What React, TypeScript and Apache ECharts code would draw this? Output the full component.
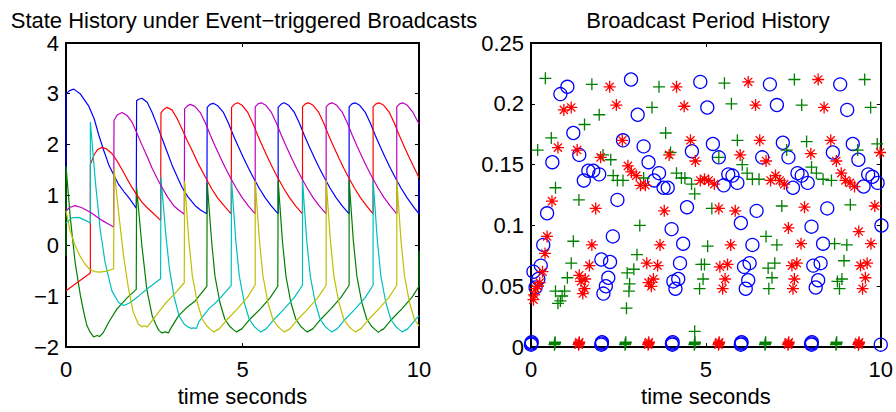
import React, { useEffect, useRef } from "react";
import * as echarts from "echarts";

const TITLE_LEFT = "State History under Event\u2212triggered Broadcasts";
const TITLE_RIGHT = "Broadcast Period History";
const X_NAME = "time seconds";
const Y2_LABELS = ["0", "0.05", "0.1", "0.15", "0.2", "0.25"];

const blueLine = [[0,1.5],[0,2.99],[0.1,3.06],[0.22,3.09],[0.4,3.0],[0.64,2.76],[0.8,2.5],[0.93,2.18],[1.07,1.88],[1.21,1.6],[1.35,1.4],[1.49,1.21],[1.65,1.06],[1.78,0.95],[1.99,0.74],
[2.0,0.74],[2.0,2.86],[2.06,2.89],[2.15,2.91],[2.3,2.83],[2.44,2.63],[2.58,2.38],[2.72,2.12],[2.86,1.86],[3.0,1.6],[3.15,1.36],[3.29,1.15],[3.45,0.97],[3.66,0.79],[3.82,0.7],[3.99,0.63],
[4.0,0.63],[4.0,2.73],[4.08,2.79],[4.17,2.81],[4.3,2.76],[4.46,2.63],[4.6,2.42],[4.74,2.18],[4.88,1.96],[5.03,1.73],[5.17,1.53],[5.31,1.34],[5.47,1.14],[5.64,0.95],[5.82,0.78],[6.01,0.63],
[6.01,2.73],[6.09,2.79],[6.18,2.82],[6.31,2.77],[6.47,2.63],[6.61,2.42],[6.75,2.18],[6.89,1.96],[7.04,1.73],[7.18,1.53],[7.32,1.34],[7.48,1.14],[7.65,0.95],[7.83,0.78],[8.02,0.63],
[8.02,2.74],[8.1,2.8],[8.19,2.82],[8.32,2.77],[8.48,2.63],[8.62,2.42],[8.76,2.18],[8.9,1.96],[9.05,1.73],[9.19,1.53],[9.33,1.34],[9.49,1.14],[9.66,0.95],[9.83,0.78],[10.0,0.63],[10.0,1.3]];

const greenLine = [[0,-0.2],[0,1.57],[0.12,0.57],[0.26,-0.34],[0.41,-0.99],[0.5,-1.3],[0.59,-1.57],[0.68,-1.7],[0.78,-1.8],[0.88,-1.77],[0.95,-1.79],[1.05,-1.72],[1.21,-1.51],[1.44,-1.25],[1.73,-1.03],[1.99,-0.86],
[2.0,-0.86],[2.0,1.15],[2.15,0.0],[2.29,-0.86],[2.44,-1.38],[2.55,-1.56],[2.63,-1.67],[2.72,-1.72],[2.81,-1.7],[2.9,-1.72],[2.96,-1.64],[3.19,-1.38],[3.42,-1.22],[3.66,-1.09],[3.99,-0.8],
[4.0,-0.8],[4.0,1.24],[4.13,0.05],[4.22,-0.6],[4.36,-1.12],[4.5,-1.45],[4.65,-1.6],[4.75,-1.66],[4.83,-1.7],[4.9,-1.67],[4.98,-1.64],[5.21,-1.45],[5.5,-1.25],[5.78,-1.03],[6.0,-0.8],
[6.01,-0.8],[6.01,1.28],[6.13,0.1],[6.23,-0.6],[6.37,-1.12],[6.51,-1.45],[6.66,-1.6],[6.76,-1.66],[6.84,-1.7],[6.91,-1.67],[6.99,-1.64],[7.22,-1.45],[7.51,-1.24],[7.79,-1.02],[8.02,-0.78],
[8.02,1.29],[8.14,0.1],[8.24,-0.6],[8.38,-1.12],[8.52,-1.45],[8.67,-1.6],[8.77,-1.66],[8.85,-1.71],[8.92,-1.67],[9.0,-1.64],[9.23,-1.45],[9.52,-1.24],[9.8,-1.02],[10.0,-0.8],[10.0,-0.1]];

const redLine = [[0,-0.89],[0.69,-0.54],[0.69,1.6],[0.8,1.8],[0.9,1.9],[1.02,1.94],[1.15,1.91],[1.3,1.82],[1.45,1.67],[1.59,1.5],[1.73,1.32],[1.87,1.15],[2.01,1.0],[2.15,0.86],[2.3,0.75],[2.44,0.66],[2.68,0.5],
[2.69,0.5],[2.69,2.62],[2.77,2.69],[2.86,2.73],[3.0,2.68],[3.14,2.52],[3.29,2.3],[3.43,2.08],[3.6,1.84],[3.76,1.6],[3.95,1.35],[4.14,1.11],[4.3,0.94],[4.5,0.77],[4.68,0.63],
[4.69,0.63],[4.69,2.73],[4.77,2.79],[4.86,2.82],[4.99,2.77],[5.15,2.63],[5.29,2.42],[5.43,2.18],[5.57,1.96],[5.72,1.73],[5.86,1.53],[6.0,1.34],[6.16,1.14],[6.33,0.95],[6.51,0.78],[6.7,0.63],
[6.7,2.74],[6.78,2.8],[6.87,2.82],[7.0,2.77],[7.16,2.63],[7.3,2.42],[7.44,2.18],[7.58,1.96],[7.73,1.73],[7.87,1.53],[8.01,1.34],[8.17,1.14],[8.34,0.95],[8.52,0.78],[8.7,0.63],
[8.7,2.74],[8.78,2.8],[8.87,2.82],[9.0,2.77],[9.16,2.63],[9.3,2.42],[9.44,2.18],[9.58,1.96],[9.73,1.73],[9.87,1.53],[10.0,1.34]];

const cyanLine = [[0,0.45],[0.17,0.55],[0.36,0.56],[0.55,0.5],[0.69,0.45],[0.69,2.44],[0.83,1.28],[0.97,0.31],[1.11,-0.34],[1.3,-0.89],[1.49,-1.12],[1.6,-1.17],[1.68,-1.17],[1.82,-1.12],[2.06,-0.99],[2.34,-0.83],[2.68,-0.65],
[2.69,-0.65],[2.69,1.35],[2.83,0.2],[2.93,-0.45],[3.06,-1.0],[3.2,-1.38],[3.35,-1.55],[3.45,-1.6],[3.55,-1.63],[3.62,-1.62],[3.7,-1.63],[3.76,-1.5],[4.04,-1.25],[4.35,-1.05],[4.68,-0.78],
[4.69,-0.78],[4.69,1.28],[4.81,0.1],[4.91,-0.6],[5.05,-1.12],[5.19,-1.45],[5.34,-1.6],[5.44,-1.66],[5.52,-1.7],[5.59,-1.67],[5.67,-1.64],[5.9,-1.45],[6.19,-1.24],[6.47,-1.02],[6.7,-0.78],
[6.7,1.29],[6.82,0.1],[6.92,-0.6],[7.06,-1.12],[7.2,-1.45],[7.35,-1.6],[7.45,-1.66],[7.53,-1.7],[7.6,-1.67],[7.68,-1.64],[7.91,-1.45],[8.2,-1.24],[8.48,-1.02],[8.7,-0.78],
[8.7,1.29],[8.82,0.1],[8.92,-0.6],[9.06,-1.12],[9.2,-1.45],[9.35,-1.6],[9.45,-1.66],[9.53,-1.7],[9.6,-1.67],[9.68,-1.64],[9.91,-1.45],[10.0,-1.38]];

const magentaLine = [[0,0.69],[0.12,0.76],[0.26,0.79],[0.45,0.75],[0.69,0.66],[0.85,0.58],[1.02,0.5],[1.2,0.43],[1.35,0.37],
[1.36,0.37],[1.36,2.47],[1.45,2.58],[1.59,2.63],[1.73,2.57],[1.87,2.44],[2.01,2.22],[2.15,1.99],[2.3,1.76],[2.44,1.53],[2.58,1.33],[2.72,1.15],[2.88,0.96],[3.05,0.79],[3.2,0.7],[3.35,0.62],
[3.36,0.62],[3.36,2.7],[3.44,2.76],[3.52,2.79],[3.65,2.75],[3.81,2.62],[3.95,2.42],[4.09,2.18],[4.23,1.96],[4.38,1.73],[4.52,1.53],[4.66,1.34],[4.82,1.14],[4.99,0.95],[5.17,0.78],[5.36,0.63],
[5.36,2.74],[5.44,2.8],[5.53,2.82],[5.66,2.77],[5.82,2.63],[5.96,2.42],[6.1,2.18],[6.24,1.96],[6.39,1.73],[6.53,1.53],[6.67,1.34],[6.83,1.14],[7.0,0.95],[7.18,0.78],[7.37,0.63],
[7.37,2.74],[7.45,2.8],[7.54,2.82],[7.67,2.77],[7.83,2.63],[7.97,2.42],[8.11,2.18],[8.25,1.96],[8.4,1.73],[8.54,1.53],[8.68,1.34],[8.84,1.14],[9.01,0.95],[9.19,0.78],[9.37,0.63],
[9.37,2.74],[9.45,2.8],[9.54,2.82],[9.67,2.77],[9.83,2.63],[10.0,2.4]];

const yellowLine = [[0,0.69],[0.11,0.31],[0.25,0.02],[0.4,-0.21],[0.55,-0.37],[0.68,-0.47],[0.82,-0.51],[0.96,-0.52],[1.15,-0.5],[1.35,-0.46],
[1.36,-0.46],[1.36,1.52],[1.5,0.6],[1.63,-0.2],[1.76,-0.8],[1.9,-1.3],[2.05,-1.55],[2.15,-1.6],[2.22,-1.58],[2.3,-1.6],[2.38,-1.53],[2.55,-1.38],[2.8,-1.15],[3.1,-0.93],[3.35,-0.73],
[3.36,-0.73],[3.36,1.27],[3.48,0.1],[3.58,-0.6],[3.72,-1.12],[3.86,-1.45],[4.01,-1.6],[4.11,-1.66],[4.19,-1.7],[4.26,-1.67],[4.34,-1.64],[4.57,-1.45],[4.86,-1.24],[5.14,-1.02],[5.36,-0.77],
[5.36,1.28],[5.48,0.1],[5.58,-0.6],[5.72,-1.12],[5.86,-1.45],[6.01,-1.6],[6.11,-1.66],[6.19,-1.7],[6.26,-1.67],[6.34,-1.64],[6.57,-1.45],[6.86,-1.24],[7.14,-1.02],[7.37,-0.78],
[7.37,1.29],[7.49,0.1],[7.59,-0.6],[7.73,-1.12],[7.87,-1.45],[8.02,-1.6],[8.12,-1.66],[8.2,-1.7],[8.27,-1.67],[8.35,-1.64],[8.58,-1.45],[8.87,-1.24],[9.15,-1.02],[9.37,-0.78],
[9.37,1.29],[9.49,0.1],[9.59,-0.6],[9.73,-1.12],[9.87,-1.45],[10.0,-1.58]];

const blueCircles = [[0,0.002],[0.02,0.004],[0.01,0.003],[2.01,0.002],[2.03,0.004],[2.02,0.003],[4.04,0.002],[4.05,0.004],[4.03,0.003],[6.0,0.002],[6.02,0.004],[6.01,0.003],[8.02,0.002],[8.03,0.004],[8.01,0.003],[10.0,0.002],
[0.07,0.062],[0.13,0.049],[0.21,0.056],[0.28,0.067],[0.35,0.084],[0.46,0.110],[0.61,0.152],[0.84,0.208],[1.04,0.214],[1.21,0.176],[1.38,0.158],[1.51,0.137],[1.64,0.145],[1.78,0.145],[1.95,0.142],
[2.01,0.072],[2.26,0.070],[2.21,0.057],[2.14,0.050],[2.07,0.044],[2.34,0.091],[2.47,0.121],[2.63,0.170],[2.86,0.220],[3.05,0.191],[3.22,0.165],[3.36,0.152],[3.52,0.137],[3.66,0.143],[3.79,0.131],[3.91,0.131],
[4.02,0.097],[4.35,0.085],[4.26,0.069],[4.21,0.056],[4.07,0.054],[4.13,0.048],[4.46,0.115],[4.60,0.161],[4.84,0.218],[5.04,0.197],[5.20,0.167],[5.37,0.156],[5.51,0.133],[5.64,0.142],[5.76,0.141],[5.90,0.135],
[6.00,0.102],[6.33,0.084],[6.25,0.069],[6.21,0.055],[6.09,0.066],[6.14,0.048],[6.45,0.112],[6.61,0.156],[6.83,0.216],[7.03,0.199],[7.20,0.168],[7.36,0.156],[7.49,0.131],[7.62,0.143],[7.74,0.141],[7.91,0.135],
[8.02,0.099],[8.35,0.085],[8.28,0.069],[8.21,0.055],[8.07,0.067],[8.14,0.049],[8.47,0.114],[8.63,0.160],[8.84,0.216],[9.04,0.195],[9.20,0.167],[9.36,0.154],[9.51,0.132],[9.64,0.142],[9.76,0.140],[9.91,0.135],[10.02,0.100]];

const redStars = [[1.36,0.002],[1.38,0.004],[1.37,0.003],[3.35,0.002],[3.37,0.004],[3.36,0.003],[5.36,0.002],[5.38,0.004],[5.37,0.003],[7.35,0.002],[7.37,0.004],[7.36,0.003],[9.36,0.002],[9.38,0.004],[9.37,0.003],
[0.07,0.039],[0.09,0.043],[0.13,0.048],[0.19,0.050],[0.25,0.053],[0.33,0.062],[0.40,0.077],[0.46,0.091],[0.60,0.120],[0.77,0.164],[0.94,0.195],[1.15,0.197],[1.32,0.162],
[1.38,0.059],[1.43,0.054],[1.48,0.044],[1.53,0.048],[1.55,0.056],[1.67,0.067],[1.74,0.084],[1.85,0.114],[1.99,0.156],[2.25,0.214],[2.44,0.199],[2.61,0.170],[2.77,0.149],[2.87,0.144],[3.01,0.141],[3.13,0.133],[3.27,0.133],
[3.31,0.069],[3.36,0.053],[3.44,0.050],[3.50,0.056],[3.62,0.067],[3.69,0.084],[3.81,0.112],[3.95,0.158],[4.16,0.214],[4.38,0.198],[4.56,0.170],[4.70,0.153],[4.84,0.137],[4.96,0.138],[5.08,0.137],[5.24,0.134],
[5.37,0.114],[5.40,0.066],[5.55,0.056],[5.48,0.048],[5.62,0.068],[5.71,0.084],[5.84,0.112],[5.98,0.158],[6.21,0.218],[6.42,0.199],[6.54,0.170],[6.72,0.153],[6.85,0.137],[6.99,0.141],[7.11,0.137],[7.24,0.134],
[7.36,0.098],[7.46,0.067],[7.60,0.069],[7.53,0.056],[7.49,0.048],[7.72,0.085],[7.82,0.115],[8.00,0.159],[8.21,0.220],[8.38,0.197],[8.57,0.170],[8.73,0.153],[8.87,0.143],[8.99,0.137],[9.12,0.135],[9.25,0.132],
[9.37,0.095],[9.42,0.067],[9.61,0.069],[9.56,0.057],[9.48,0.048],[9.72,0.085],[9.83,0.116],[9.98,0.160]];

const greenPlus = [[0.67,0.002],[0.69,0.004],[0.68,0.003],[2.69,0.002],[2.71,0.004],[2.70,0.003],[4.67,0.002],[4.69,0.004],[4.68,0.003],[6.69,0.002],[6.71,0.004],[6.70,0.003],[8.72,0.002],[8.74,0.004],[8.73,0.003],
[0.19,0.162],[0.41,0.221],[0.58,0.172],[0.70,0.131],[0.70,0.046],[0.77,0.036],[0.84,0.038],[0.89,0.042],[0.96,0.046],[1.04,0.057],[1.15,0.069],[1.21,0.087],[1.37,0.121],[1.53,0.183],[1.74,0.216],[1.95,0.191],
[2.06,0.158],[2.28,0.154],[2.35,0.141],[2.47,0.137],[2.63,0.137],[2.73,0.032],[2.80,0.046],[2.82,0.052],[2.75,0.061],[2.94,0.064],[3.03,0.076],[3.11,0.100],[3.22,0.139],[3.46,0.197],[3.66,0.214],[3.85,0.176],
[3.99,0.160],[4.16,0.143],[4.30,0.139],[4.40,0.139],[4.59,0.134],[4.68,0.126],[4.68,0.013],[4.82,0.048],[4.92,0.056],[4.87,0.068],[4.96,0.068],[5.05,0.083],[5.17,0.114],[5.37,0.156],[5.53,0.217],[5.73,0.200],
[5.90,0.170],[6.04,0.150],[6.18,0.143],[6.33,0.138],[6.52,0.138],[6.72,0.091],[6.80,0.048],[6.89,0.057],[6.78,0.065],[6.97,0.069],[7.03,0.084],[7.17,0.116],[7.31,0.162],[7.53,0.220],[7.74,0.199],
[7.88,0.169],[8.02,0.148],[8.16,0.143],[8.35,0.138],[8.59,0.137],[8.68,0.085],[8.76,0.054],[8.82,0.048],[8.89,0.056],[8.95,0.071],[9.03,0.084],[9.13,0.117],[9.34,0.162],[9.54,0.220],[9.71,0.197],[9.90,0.167]];

const FONT = "'Liberation Sans', Arial, Helvetica, sans-serif";
const FS = 22;

function xAxes(gridIndex: number, withName: boolean) {
  const base: any = {
    gridIndex,
    type: "value",
    min: 0,
    max: 10,
    interval: 5,
    axisLine: { show: true, onZero: false, lineStyle: { color: "#000", width: 2 } },
    axisTick: { show: true, inside: true, length: 4, lineStyle: { color: "#000", width: 1 } },
    splitLine: { show: false },
  };
  return [
    {
      ...base,
      position: "bottom",
      axisLabel: { show: true, margin: 11, fontSize: FS, color: "#000", fontFamily: FONT },
      name: withName ? X_NAME : "",
      nameLocation: "middle",
      nameGap: 36,
      nameTextStyle: { fontSize: FS, color: "#000", fontFamily: FONT },
    },
    { ...base, position: "top", axisLabel: { show: false } },
  ];
}

function yAxes(gridIndex: number, min: number, max: number, interval: number, fmt: (v: number) => string) {
  const base: any = {
    gridIndex,
    type: "value",
    min,
    max,
    interval,
    axisLine: { show: true, onZero: false, lineStyle: { color: "#000", width: 2 } },
    axisTick: { show: true, inside: true, length: 4, lineStyle: { color: "#000", width: 1 } },
    splitLine: { show: false },
  };
  return [
    {
      ...base,
      position: "left",
      axisLabel: { show: true, margin: 7, fontSize: FS, color: "#000", fontFamily: FONT, formatter: fmt },
    },
    { ...base, position: "right", axisLabel: { show: false } },
  ];
}

const ASTERISK = "path://M5,0L5,10M0,5L10,5M1.6,1.6L8.4,8.4M1.6,8.4L8.4,1.6";
const PLUS = "path://M5,0L5,10M0,5L10,5";

export default function App() {
  const ref = useRef<HTMLDivElement>(null);
  useEffect(() => {
    document.body.style.margin = "0";
    const chart = echarts.init(ref.current!, undefined, { renderer: "svg" });
    const line = (data: number[][], color: string) => ({
      type: "line",
      xAxisIndex: 0,
      yAxisIndex: 0,
      data,
      symbol: "none",
      showSymbol: false,
      lineStyle: { color, width: 1.2 },
      itemStyle: { color },
      silent: true,
    });
    const scat = (data: number[][], color: string, symbol: string, size: number) => ({
      type: "scatter",
      xAxisIndex: 2,
      yAxisIndex: 2,
      data,
      symbol,
      symbolSize: size,
      clip: false,
      itemStyle: { color: "rgba(0,0,0,0)", borderColor: color, borderWidth: 1.3, opacity: 1 },
      silent: true,
    });
    chart.setOption({
      animation: false,
      backgroundColor: "#fff",
      textStyle: { fontFamily: FONT },
      grid: [
        { left: 66, top: 43, width: 353, height: 309, containLabel: false },
        { left: 531, top: 43, width: 354, height: 309, containLabel: false },
      ],
      xAxis: [...xAxes(0, true), ...xAxes(1, true)],
      yAxis: [
        ...yAxes(0, -2, 4, 1, (v: number) => (v < 0 ? "\u2212" + Math.abs(v) : String(v))),
        ...yAxes(1, 0, 0.25, 0.05, (v: number) => Y2_LABELS[Math.round(v / 0.05)] ?? ""),
      ],
      graphic: [
        {
          type: "text",
          x: 244,
          y: 20,
          style: { text: TITLE_LEFT, fontSize: FS, fontFamily: FONT, fill: "#000", align: "center", verticalAlign: "middle" },
        },
        {
          type: "text",
          x: 708,
          y: 20,
          style: { text: TITLE_RIGHT, fontSize: FS, fontFamily: FONT, fill: "#000", align: "center", verticalAlign: "middle" },
        },
      ],
      series: [
        line(blueLine, "#0000FF"),
        line(greenLine, "#008000"),
        line(redLine, "#FF0000"),
        line(cyanLine, "#00BFBF"),
        line(magentaLine, "#BF00BF"),
        line(yellowLine, "#BFBF00"),
        scat(blueCircles, "#0000FF", "circle", 13),
        scat(greenPlus, "#008000", PLUS, 12),
        scat(redStars, "#FF0000", ASTERISK, 12),
      ],
    });
    return () => chart.dispose();
  }, []);
  return <div ref={ref} style={{ position: "fixed", left: 0, top: 0, width: 896, height: 412 }} />;
}
